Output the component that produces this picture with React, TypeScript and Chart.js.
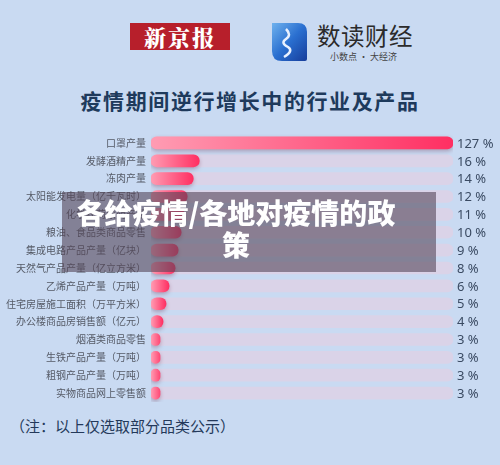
import React, { useEffect, useRef } from "react";
import { Chart, registerables } from "chart.js";

Chart.register(...registerables);

const categories = [
  "口罩产量",
  "发酵酒精产量",
  "冻肉产量",
  "太阳能发电量（亿千瓦时）",
  "化学农药原药产量",
  "粮油、食品类商品零售",
  "集成电路产品产量（亿块）",
  "天然气产品产量（亿立方米）",
  "乙烯产品产量（万吨）",
  "住宅房屋施工面积（万平方米）",
  "办公楼商品房销售额（亿元）",
  "烟酒类商品零售",
  "生铁产品产量（万吨）",
  "粗钢产品产量（万吨）",
  "实物商品网上零售额",
];
const growth = [127, 16, 14, 12, 11, 10, 9, 8, 6, 5, 4, 3, 3, 3, 3];
const AXIS_MAX = 100;
const FONT = '"Noto Sans CJK SC", "Noto Sans", sans-serif';

function BarChart() {
  const ref = useRef<HTMLCanvasElement>(null);
  useEffect(() => {
    if (!ref.current) return;
    const valueLabels = {
      id: "valueLabels",
      afterDatasetsDraw(chart: any) {
        const ctx = chart.ctx;
        const meta = chart.getDatasetMeta(0);
        const xs = chart.scales.x;
        ctx.save();
        ctx.font = '13px "Noto Sans", sans-serif';
        ctx.fillStyle = "#3a4a62";
        ctx.textBaseline = "middle";
        ctx.textAlign = "left";
        meta.data.forEach((el: any, i: number) => {
          ctx.fillText(`${growth[i]} %`, xs.right + 4, el.y + 1);
        });
        ctx.restore();
      },
    };
    const barStyle = {
      id: "barStyle",
      beforeDatasetDraw(chart: any, args: any) {
        if (args.index !== 0) return;
        const ctx = chart.ctx;
        const meta = chart.getDatasetMeta(0);
        meta.data.forEach((el: any) => {
          const x0 = el.base;
          const x1 = Math.max(el.x, x0 + 12);
          if (isFinite(x0) && isFinite(x1)) {
            const g = ctx.createLinearGradient(x0, 0, x1, 0);
            g.addColorStop(0, "#ff9cb3");
            g.addColorStop(1, "#ff2f62");
            el.options = Object.assign({}, el.options, { backgroundColor: g });
          }
        });
        ctx.save();
        ctx.shadowColor = "rgba(110,40,70,0.35)";
        ctx.shadowBlur = 4;
        ctx.shadowOffsetY = 2;
      },
      afterDatasetDraw(chart: any, args: any) {
        if (args.index !== 0) return;
        chart.ctx.restore();
      },
    };
    const chart = new Chart(ref.current, {
      type: "bar",
      data: {
        labels: categories,
        datasets: [
          {
            data: growth.map((v) => Math.min(v, AXIS_MAX)),
            backgroundColor: "#ff5a80",
            borderRadius: 6,
            borderSkipped: false,
            barThickness: 12,
            grouped: false,
          },
          {
            data: categories.map(() => AXIS_MAX),
            backgroundColor: "#dad3e8",
            borderRadius: 6,
            borderSkipped: false,
            barThickness: 12,
            grouped: false,
          },
        ],
      },
      options: {
        indexAxis: "y",
        animation: false,
        responsive: false,
        maintainAspectRatio: false,
        layout: { padding: { left: 0, right: 47, top: 0, bottom: 0 } },
        plugins: { legend: { display: false }, tooltip: { enabled: false } },
        scales: {
          x: { display: false, min: 0, max: AXIS_MAX },
          y: {
            grid: { display: false, drawTicks: false },
            border: { display: false },
            afterFit: (s: any) => {
              s.width = 151;
            },
            ticks: {
              color: "#555a66",
              font: { size: 10, family: FONT },
              padding: 5,
              autoSkip: false,
            },
          },
        },
      },
      plugins: [barStyle, valueLabels],
    } as any);
    return () => chart.destroy();
  }, []);
  return <canvas ref={ref} width={500} height={290} style={{ display: "block" }} />;
}

export default function App() {
  return (
    <div
      style={{
        position: "absolute",
        left: 0,
        top: 0,
        width: 500,
        height: 465,
        background: "#c9daf2",
        overflow: "hidden",
        fontFamily: FONT,
      }}
    >
      <div
        style={{
          position: "absolute",
          left: 130,
          top: 23,
          width: 100,
          height: 27,
          background: "#b71f2b",
          color: "#fff",
          fontWeight: 900,
          fontSize: 22,
          lineHeight: "27px",
          textAlign: "center",
          letterSpacing: 2,
          fontFamily: '"Noto Serif CJK SC", "Noto Sans CJK SC", serif',
        }}
      >
        新京报
      </div>
      <svg
        style={{ position: "absolute", left: 270, top: 23 }}
        width={37}
        height={38}
        viewBox="0 0 37 38"
      >
        <defs>
          <linearGradient id="lg" x1="0" y1="0" x2="1" y2="1">
            <stop offset="0" stopColor="#6fb2ee" />
            <stop offset="0.5" stopColor="#2a6fd0" />
            <stop offset="1" stopColor="#163c9a" />
          </linearGradient>
        </defs>
        <path d="M2 0 H28 Q37 0 37 9 V36 Q37 38 35 38 H12 Q2 38 2 28 Z" fill="url(#lg)" />
        <path d="M16 6 Q22 12 16 16 Q10 20 18 24 Q24 28 14 34" stroke="#e8f1ff" strokeWidth={2.5} fill="none" />
      </svg>
      <div
        style={{
          position: "absolute",
          left: 317,
          top: 20,
          fontSize: 23.5,
          color: "#2b2b2b",
          lineHeight: "30px",
          letterSpacing: 0.5,
        }}
      >
        数读财经
      </div>
      <div
        style={{
          position: "absolute",
          left: 330,
          top: 51,
          fontSize: 9,
          color: "#444",
          lineHeight: "12px",
        }}
      >
        小数点 · 大经济
      </div>
      <div
        style={{
          position: "absolute",
          left: 0,
          width: 500,
          top: 86,
          textAlign: "center",
          fontSize: 21,
          fontWeight: 700,
          color: "#1e3a5c",
          lineHeight: "28px",
          letterSpacing: 1.6,
        }}
      >
        疫情期间逆行增长中的行业及产品
      </div>
      <div style={{ position: "absolute", left: 0, top: 123 }}>
        <BarChart />
      </div>
      <div
        style={{
          position: "absolute",
          left: 10,
          top: 415,
          fontSize: 15,
          color: "#24395a",
          lineHeight: "22px",
        }}
      >
        （注：以上仅选取部分品类公示）
      </div>
      <div
        style={{
          position: "absolute",
          left: 62,
          top: 192,
          width: 374,
          height: 80,
          background: "rgba(85,70,88,0.6)",
        }}
      />
      <div
        style={{
          position: "absolute",
          left: 0,
          width: 472,
          top: 196,
          textAlign: "center",
          color: "#fff",
          fontWeight: 900,
          fontSize: 28,
          lineHeight: "32px",
        }}
      >
        各给疫情/各地对疫情的政
        <br />策
      </div>
    </div>
  );
}
